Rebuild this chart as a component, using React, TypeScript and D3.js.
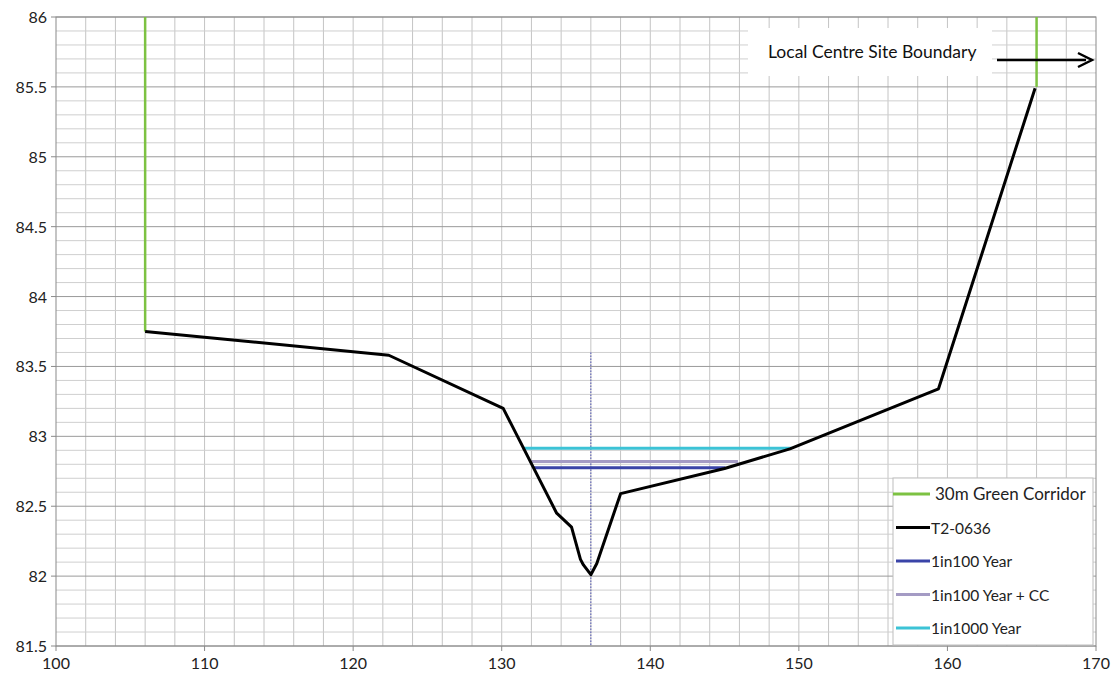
import * as d3 from 'd3';

// chainage (m) / level (m AOD) of surveyed cross-section
const profileX = [106, 122.4, 130.1, 133.7, 134.7, 135.3, 135.5, 136.0, 136.4, 138.0, 145.0, 149.4, 159.4, 165.9];
const profileY = [83.75, 83.58, 83.2, 82.45, 82.35, 82.12, 82.08, 82.01, 82.09, 82.59, 82.77, 82.91, 83.34, 85.49];

// green corridor boundaries
const corridorLeft: [number, number][] = [[106, 83.75], [106, 86]];
const corridorRight: [number, number][] = [[166, 85.5], [166, 86]];

const floodNames = ['1in100 Year', '1in100 Year + CC', '1in1000 Year'];
const floodLevels = [82.775, 82.82, 82.915];
const floodFrom = [132.1, 132.0, 131.4];
const floodTo = [145.05, 145.9, 149.5];
const floodColors = ['#3a44a8', '#a49bc4', '#3cc3d6'];

const centreX = 136;
const centreTop = 83.6;

const xTicks = [100, 110, 120, 130, 140, 150, 160, 170];
const yTicks = [81.5, 82, 82.5, 83, 83.5, 84, 84.5, 85, 85.5, 86];

const legendNames = ['30m Green Corridor', 'T2-0636', ...floodNames];
const legendColors = ['#7dc242', '#000000', ...floodColors];

const W = 1116;
const H = 677;
const margin = { left: 56, right: 20, top: 17, bottom: 31 };

export default function App() {
  const x = d3.scaleLinear().domain([100, 170]).range([margin.left, W - margin.right]);
  const y = d3.scaleLinear().domain([81.5, 86]).range([H - margin.bottom, margin.top]);
  const line = d3.line<[number, number]>().x((d) => x(d[0])).y((d) => y(d[1]));

  const vGrid = d3.range(102, 170, 2);
  const hGrid = d3.range(0, 46).map((i) => +(81.5 + i * 0.1).toFixed(1));
  const profile = profileX.map((v, i) => [v, profileY[i]] as [number, number]);

  const font = 'Lato, "Open Sans", sans-serif';
  const legX = 893;
  const legY = 478;

  return (
    <svg width={W} height={H} style={{ position: 'absolute', left: 0, top: 0, background: '#fff' }} fontFamily={font}>
      {/* grid */}
      {vGrid.map((v) => (
        <line key={'v' + v} x1={x(v)} x2={x(v)} y1={y(81.5)} y2={y(86)} stroke="#c4c4c4" strokeWidth={1} />
      ))}
      {hGrid.map((v, i) => (
        <line
          key={'h' + i}
          x1={x(100)}
          x2={x(170)}
          y1={y(v)}
          y2={y(v)}
          stroke={i % 5 === 0 ? '#9a9a9a' : '#cfcfcf'}
          strokeWidth={1}
        />
      ))}
      <rect x={x(100)} y={y(86)} width={x(170) - x(100)} height={y(81.5) - y(86)} fill="none" stroke="#8a8a8a" />
      {/* ticks */}
      {xTicks.map((t) => (
        <g key={'xt' + t}>
          <line x1={x(t)} x2={x(t)} y1={y(81.5)} y2={y(81.5) + 5} stroke="#8a8a8a" />
          <text x={x(t)} y={y(81.5) + 23} textAnchor="middle" fontSize={16} fill="#222">{t}</text>
        </g>
      ))}
      {yTicks.map((t) => (
        <g key={'yt' + t}>
          <line x1={x(100) - 5} x2={x(100)} y1={y(t)} y2={y(t)} stroke="#8a8a8a" />
          <text x={x(100) - 9} y={y(t) + 6} textAnchor="end" fontSize={16} fill="#222">{t}</text>
        </g>
      ))}

      {/* centreline */}
      <line x1={x(centreX)} x2={x(centreX)} y1={y(centreTop)} y2={y(81.5)} stroke="#4a4fb0" strokeWidth={1} strokeDasharray="1.5,1.5" />

      {/* flood levels */}
      {floodLevels.map((lv, i) => (
        <line key={'f' + i} x1={x(floodFrom[i])} x2={x(floodTo[i])} y1={y(lv)} y2={y(lv)} stroke={floodColors[i]} strokeWidth={3} />
      ))}

      {/* corridor */}
      <path d={line(corridorLeft) ?? ''} stroke="#7dc242" strokeWidth={2.5} fill="none" />
      <path d={line(corridorRight) ?? ''} stroke="#7dc242" strokeWidth={2.5} fill="none" />

      {/* profile */}
      <path d={line(profile) ?? ''} stroke="#000" strokeWidth={3} fill="none" strokeLinejoin="round" />

      {/* site boundary label */}
      <rect x={748} y={28} width={244} height={48} fill="#fff" />
      <text x={768} y={58} fontSize={17.5} fill="#111">Local Centre Site Boundary</text>
      <line x1={997} x2={1086} y1={60} y2={60} stroke="#000" strokeWidth={2.5} />
      <path d="M1078,53 L1092,60 L1078,67" fill="none" stroke="#000" strokeWidth={2.5} />

      {/* legend */}
      <rect x={legX} y={legY} width={200} height={167} fill="#fff" stroke="#bdbdbd" />
      {legendNames.map((n, i) => {
        const ly = 494 + i * 33.5;
        return (
          <g key={'l' + i}>
            <line x1={legX + (i === 0 ? 0 : 3)} x2={legX + 37} y1={ly} y2={ly} stroke={legendColors[i]} strokeWidth={3} />
            <text x={legX + (i === 0 ? 42 : 38)} y={ly + 6} fontSize={i === 0 ? 17 : 15.5} fill="#222">{n}</text>
          </g>
        );
      })}
    </svg>
  );
}
